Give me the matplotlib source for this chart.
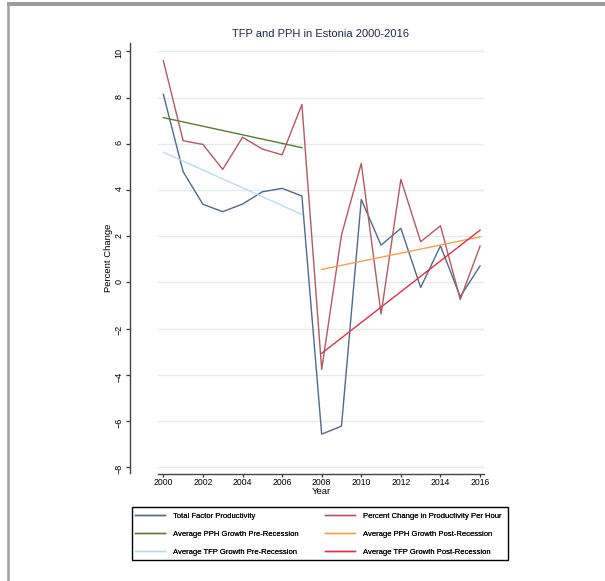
import matplotlib
matplotlib.use("Agg")
import matplotlib.pyplot as plt
from matplotlib.patches import Rectangle
from matplotlib.lines import Line2D

plt.rcParams['font.family'] = ['Liberation Sans', 'DejaVu Sans']

# Annual productivity growth, Estonia (percent change)
years = list(range(2000, 2017))
tfp = [8.14, 4.79, 3.38, 3.06, 3.39, 3.92, 4.07, 3.74,
       -6.57, -6.22, 3.59, 1.61, 2.34, -0.22, 1.58, -0.62, 0.71]
pph = [9.59, 6.13, 5.97, 4.89, 6.28, 5.77, 5.52, 7.70,
       -3.77, 2.05, 5.15, -1.37, 4.46, 1.76, 2.45, -0.74, 1.57]

# Fitted trend lines (end points) before and after the recession
pre_years = [2000, 2007]
post_years = [2008, 2016]
pph_pre_fit = [7.13, 5.83]
tfp_pre_fit = [5.63, 2.94]
pph_post_fit = [0.56, 1.97]
tfp_post_fit = [-3.07, 2.26]

y_ticks = [-8, -6, -4, -2, 0, 2, 4, 6, 8, 10]
x_ticks = list(range(2000, 2017, 2))

c_tfp = '#52698a'
c_pph = '#ad5b64'
c_pph_pre = '#5a7a34'
c_tfp_pre = '#b9dcec'
c_pph_post = '#f2a04e'
c_tfp_post = '#d8334e'

fig = plt.figure(figsize=(6.05, 5.81), dpi=100)
W, H = 605, 581
PT = 72 / 100  # points per pixel at this dpi

def fx(px):
    return px / W

def fy(py):
    return 1 - py / H

# Page frame
fig.patches.append(Rectangle((fx(7), fy(6)), 1 - fx(7), 4 / H, transform=fig.transFigure,
                             facecolor='#9a9a9a', edgecolor='none'))
fig.add_artist(Line2D([fx(7.5), fx(7.5)], [0, fy(4)], transform=fig.transFigure,
                      color='#a0a0a0', lw=1.8))

ax = fig.add_axes([fx(158), fy(473), fx(484) - fx(158), fy(43) - fy(473)])
ax.set_facecolor('white')

lw = 1.0
h_tfp, = ax.plot(years, tfp, color=c_tfp, lw=lw)
h_pph_pre, = ax.plot(pre_years, pph_pre_fit, color=c_pph_pre, lw=lw)
h_tfp_pre, = ax.plot(pre_years, tfp_pre_fit, color=c_tfp_pre, lw=lw)
h_pph, = ax.plot(years, pph, color=c_pph, lw=lw)
h_pph_post, = ax.plot(post_years, pph_post_fit, color=c_pph_post, lw=lw)
h_tfp_post, = ax.plot(post_years, tfp_post_fit, color=c_tfp_post, lw=lw)

ax.set_xlim(1999.73, 2016.2)
ax.set_ylim(-8.25, 10.36)
ax.set_yticks(y_ticks)
ax.set_xticks(x_ticks)
ax.tick_params(axis='y', labelrotation=90, labelsize=6.5, length=4 * PT, width=0.9, pad=1.8,
               color='#333333')
ax.tick_params(axis='x', labelsize=6.2, length=3 * PT, width=0.9, pad=0.5, color='#333333')
for lab in ax.get_yticklabels():
    lab.set_verticalalignment('center')

ax.grid(axis='y', color='#e2ecee', lw=1.0)
ax.set_axisbelow(True)
ax.yaxis.get_gridlines()[0].set_visible(False)

for side in ('top', 'right'):
    ax.spines[side].set_visible(False)
ax.spines['left'].set_position(('outward', 28 * PT))
ax.spines['bottom'].set_position(('outward', 1 * PT))
for side in ('left', 'bottom'):
    ax.spines[side].set_color('#444444')
    ax.spines[side].set_linewidth(1.0)

ax.set_ylabel('Percent Change', fontsize=6.8, labelpad=1)
ax.set_xlabel('Year', fontsize=6.8, labelpad=0.3)
fig.text(fx(320.5), fy(34), 'TFP and PPH in Estonia 2000-2016', ha='center', va='center',
         fontsize=8, color='#1e2a4a')

# Legend: two columns inside one framed box
fig.patches.append(Rectangle((fx(132), fy(560)), fx(508) - fx(132), fy(507) - fy(560),
                             transform=fig.transFigure, facecolor='white',
                             edgecolor='black', lw=1.0))
col1 = [(h_tfp, 'Total Factor Productivity'),
        (h_pph_pre, 'Average PPH Growth Pre-Recession'),
        (h_tfp_pre, 'Average TFP Growth Pre-Recession')]
col2 = [(h_pph, 'Percent Change in Productivity Per Hour'),
        (h_pph_post, 'Average PPH Growth Post-Recession'),
        (h_tfp_post, 'Average TFP Growth Post-Recession')]
leg_fs = 5.5
for x0, entries in ((135, col1), (325, col2)):
    hs = [e[0] for e in entries]
    ls = [e[1] for e in entries]
    leg = fig.legend(hs, ls, loc='upper left', bbox_to_anchor=(fx(x0), fy(512.5)),
                     fontsize=leg_fs, frameon=False, handlelength=30 / (leg_fs / PT),
                     handletextpad=8 / (leg_fs / PT), labelspacing=1.4,
                     borderpad=0, borderaxespad=0)
    fig.add_artist(leg)

fig.savefig('out.png', dpi=100, facecolor='white')
